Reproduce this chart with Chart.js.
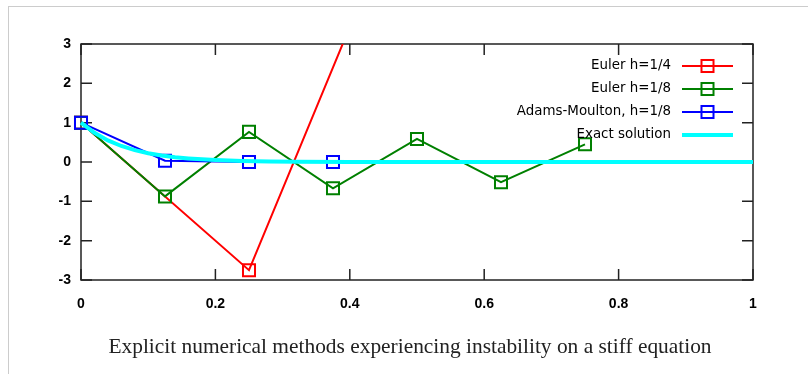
<!DOCTYPE html>
<html>
<head>
<meta charset="utf-8">
<script src="https://cdn.jsdelivr.net/npm/chart.js@4.4.1/dist/chart.umd.min.js"></script>
<style>
body { margin: 0; background: #fff; }
#wrap { position: relative; width: 808px; height: 374px; overflow: hidden; background: #fff; }
#frame { position: absolute; left: 8px; top: 6px; width: 900px; height: 500px; border-top: 1px solid #ccc; border-left: 1px solid #ccc; }
#mainGraph { position: absolute; left: 0; top: 0; }
#caption { position: absolute; left: 8px; width: 804px; top: 334px; text-align: center; font-family: "Liberation Serif", serif; font-size: 21.4px; color: #222; }
</style>
</head>
<body>
<div id="wrap">
  <div id="frame"></div>
  <canvas id="mainGraph" width="808" height="374"></canvas>
  <div id="caption">Explicit numerical methods experiencing instability on a stiff equation</div>
</div>
<script>
// values
var seriesNames = ['Euler h=1/4', 'Euler h=1/8', 'Adams-Moulton, h=1/8', 'Exact solution'];
var seriesColors = ['#ff0000', '#008000', '#0000ff', '#00ffff'];

var eulerQuarterX = [0, 0.25, 0.5];
var eulerQuarterY = [1, -2.75, 7.56];

var eulerEighthX = [0, 0.125, 0.25, 0.375, 0.5, 0.625, 0.75];
var eulerEighthY = [1, -0.875, 0.766, -0.67, 0.586, -0.513, 0.449];

var adamsX = [0, 0.125, 0.25, 0.375];
var adamsY = [1, 0.032, 0.001, 0];

var exactX = [0, 0.02, 0.04, 0.06, 0.08, 0.1, 0.12, 0.14, 0.16, 0.18, 0.2, 0.24, 0.28, 0.32, 0.4, 0.5, 0.6, 1];
var exactY = [1, 0.741, 0.549, 0.407, 0.301, 0.223, 0.165, 0.122, 0.091, 0.067, 0.05, 0.027, 0.015, 0.008, 0.0025, 0.0006, 0, 0];

var xTicks = [0, 0.2, 0.4, 0.6, 0.8, 1];
var yTicks = [-3, -2, -1, 0, 1, 2, 3];

function makeSeries(i, xs, ys, width, radius, order) {
    var pts = [];
    for (var k = 0; k < xs.length; k++) {
        pts.push({ x: xs[k], y: ys[k] });
    }
    return {
        label: seriesNames[i],
        data: pts,
        borderColor: seriesColors[i],
        backgroundColor: 'rgba(0,0,0,0)',
        borderWidth: width,
        pointRadius: radius,
        pointStyle: 'rect',
        pointBorderWidth: 2,
        pointBorderColor: seriesColors[i],
        pointBackgroundColor: 'rgba(0,0,0,0)',
        tension: 0,
        order: order,
        clip: { left: 10, top: 0, right: 10, bottom: 10 }
    };
}

// gnuplot style box, inward ticks and key
var gnuFrame = {
    id: 'gnuFrame',
    beforeDatasetsDraw: function (chart) {
        var a = chart.chartArea, ctx = chart.ctx;
        var xs = chart.scales.x, ys = chart.scales.y;
        ctx.save();
        ctx.strokeStyle = '#222';
        ctx.lineWidth = 1.5;
        ctx.strokeRect(a.left, a.top, a.right - a.left, a.bottom - a.top);
        ctx.beginPath();
        xs.ticks.forEach(function (t) {
            var px = xs.getPixelForValue(t.value);
            ctx.moveTo(px, a.bottom); ctx.lineTo(px, a.bottom - 11);
            ctx.moveTo(px, a.top); ctx.lineTo(px, a.top + 11);
        });
        ys.ticks.forEach(function (t) {
            var py = ys.getPixelForValue(t.value);
            ctx.moveTo(a.left, py); ctx.lineTo(a.left + 11, py);
            ctx.moveTo(a.right, py); ctx.lineTo(a.right - 11, py);
        });
        ctx.stroke();
        ctx.restore();
    },
    afterDatasetsDraw: function (chart) {
        var a = chart.chartArea, ctx = chart.ctx;
        ctx.save();
        chart.data.datasets.forEach(function (ds, i) {
            var y = a.top + 22 + i * 23;
            var x1 = a.right - 71, x2 = a.right - 20;
            ctx.font = '13.4px "DejaVu Sans"';
            ctx.fillStyle = '#000';
            ctx.textAlign = 'right';
            ctx.textBaseline = 'middle';
            ctx.fillText(ds.label, x1 - 11, y);
            ctx.strokeStyle = ds.borderColor;
            ctx.lineWidth = ds.borderWidth;
            ctx.beginPath();
            ctx.moveTo(x1, y); ctx.lineTo(x2, y);
            ctx.stroke();
            if (ds.pointRadius > 0) {
                var s = ds.pointRadius * Math.SQRT1_2;
                ctx.lineWidth = ds.pointBorderWidth;
                ctx.strokeRect((x1 + x2) / 2 - s, y - s, 2 * s, 2 * s);
            }
        });
        ctx.restore();
    }
};

var tickFont = { family: 'Liberation Sans', weight: 'bold', size: 14 };

function plainLabel(v) {
    return String(v);
}

var ctx = document.getElementById('mainGraph').getContext('2d');
var chart = new Chart(ctx, {
    type: 'line',
    data: {
        datasets: [
            makeSeries(0, eulerQuarterX, eulerQuarterY, 2, 8.5, 4),
            makeSeries(1, eulerEighthX, eulerEighthY, 2, 8.5, 3),
            makeSeries(2, adamsX, adamsY, 2, 8.5, 2),
            makeSeries(3, exactX, exactY, 4, 0, 1)
        ]
    },
    options: {
        responsive: false,
        animation: false,
        events: [],
        layout: { padding: { top: 44, right: 55, left: 0, bottom: 0 } },
        plugins: { legend: { display: false }, tooltip: { enabled: false } },
        scales: {
            x: {
                type: 'linear',
                min: 0,
                max: 1,
                afterBuildTicks: function (s) { s.ticks = xTicks.map(function (v) { return { value: v }; }); },
                afterFit: function (s) { s.height = 94; },
                grid: { display: false, drawTicks: false },
                border: { display: false },
                ticks: { font: tickFont, color: '#000', padding: 16, maxRotation: 0, callback: plainLabel }
            },
            y: {
                type: 'linear',
                min: -3,
                max: 3,
                afterBuildTicks: function (s) { s.ticks = yTicks.map(function (v) { return { value: v }; }); },
                afterFit: function (s) { s.width = 81; },
                grid: { display: false, drawTicks: false },
                border: { display: false },
                ticks: { font: tickFont, color: '#000', padding: 10, callback: plainLabel }
            }
        }
    },
    plugins: [gnuFrame]
});
</script>
</body>
</html>
